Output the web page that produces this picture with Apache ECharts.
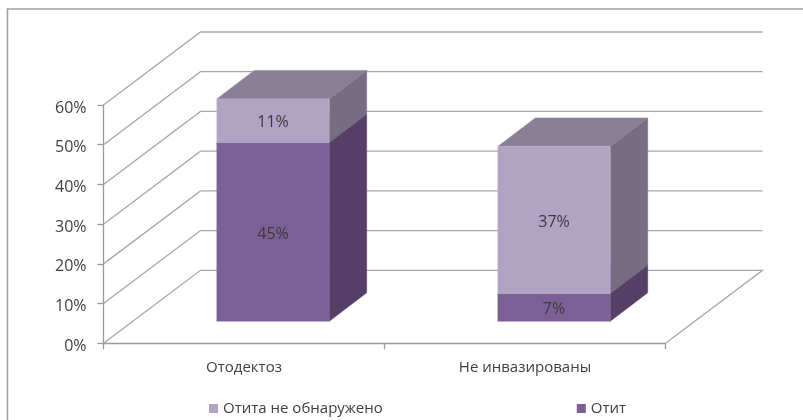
<!DOCTYPE html>
<html>
<head>
<meta charset="utf-8">
<style>
html, body { margin: 0; padding: 0; background: #fff; }
#chart { width: 803px; height: 420px; }
</style>
<script src="https://cdn.jsdelivr.net/npm/echarts@6/dist/echarts.min.js"></script>
</head>
<body>
<div id="chart"></div>
<script>
var categories = ['Отодектоз', 'Не инвазированы'];
var otit = [45, 7];
var noOtit = [11, 37];
var yTicks = [0, 10, 20, 30, 40, 50, 60];
var names = ['Отита не обнаружено', 'Отит'];

var FONT = '"Open Sans"';
var TEXT = '#404040';
var GRID_COLOR = '#a8a8a8';

// oblique projection of the 3d box, pixels
var WALL_DX = 97, WALL_DY = -73;
var BAR_DX = 29, BAR_DY = -22;
var DEPTH_DX = 37.5, DEPTH_DY = -28.5;
var BAR_WIDTH = 0.4;

function poly(points, fill, stroke) {
    return {
        type: 'polygon',
        shape: {points: points},
        style: {fill: fill, stroke: stroke || fill, lineWidth: 0.5}
    };
}

// one stacked piece: front, side, top and its label
function makeSegment(values, below, colors) {
    return function (params, api) {
        var i = params.dataIndex;
        var base = below ? below[i] : 0;
        var p0 = api.coord([i, base]);
        var p1 = api.coord([i, base + values[i]]);
        var w = api.size([1, 0])[0] * BAR_WIDTH;
        var l = p0[0] + BAR_DX - w / 2;
        var r = l + w;
        var y0 = p0[1] + BAR_DY;
        var y1 = p1[1] + BAR_DY;
        return {
            type: 'group',
            children: [
                poly([[r, y0], [r + DEPTH_DX, y0 + DEPTH_DY], [r + DEPTH_DX, y1 + DEPTH_DY], [r, y1]], colors.side),
                poly([[l, y1], [r, y1], [r + DEPTH_DX, y1 + DEPTH_DY], [l + DEPTH_DX, y1 + DEPTH_DY]], colors.top),
                poly([[l, y0], [r, y0], [r, y1], [l, y1]], colors.front, colors.edge),
                {
                    type: 'text',
                    style: {
                        x: (l + r) / 2,
                        y: (y0 + y1) / 2 + 2,
                        text: values[i] + '%',
                        align: 'center',
                        verticalAlign: 'middle',
                        fill: '#3a3a3a',
                        font: '16px ' + FONT
                    }
                }
            ]
        };
    };
}

// side wall and back wall lines for every tick
function renderWall(params, api) {
    var v = yTicks[params.dataIndex];
    var y = api.coord([0, v])[1];
    var cs = params.coordSys;
    var pts = [
        [cs.x, y],
        [cs.x + WALL_DX, y + WALL_DY],
        [cs.x + cs.width + WALL_DX, y + WALL_DY]
    ];
    if (v === 0) {
        pts.push([cs.x + cs.width, y]);
    }
    return {
        type: 'polyline',
        shape: {points: pts},
        style: {fill: null, stroke: GRID_COLOR, lineWidth: 1.3}
    };
}

var chart = echarts.init(document.getElementById('chart'), null, {renderer: 'canvas'});

chart.setOption({
    animation: false,
    backgroundColor: '#fff',
    graphic: [{
        type: 'rect',
        shape: {x: 7.5, y: 9, width: 900, height: 500},
        style: {fill: null, stroke: '#a0a0a0', lineWidth: 1.5},
        silent: true
    }],
    grid: {left: 103.5, top: 105, width: 562, height: 238.3},
    legend: {
        left: 204,
        top: 396,
        icon: 'rect',
        itemWidth: 9,
        itemHeight: 9,
        itemGap: 194,
        data: names,
        textStyle: {color: TEXT, fontFamily: FONT, fontSize: 15}
    },
    xAxis: {
        type: 'category',
        data: categories,
        axisLine: {lineStyle: {color: '#999', width: 1.3}},
        axisTick: {show: true, length: 6, lineStyle: {color: '#999', width: 1.3}},
        axisLabel: {color: TEXT, fontFamily: FONT, fontSize: 15, margin: 17}
    },
    yAxis: {
        type: 'value',
        min: 0,
        max: 60,
        interval: 10,
        splitLine: {show: false},
        axisLine: {show: true, lineStyle: {color: '#999', width: 1.3}},
        axisTick: {show: true, length: 6, lineStyle: {color: '#999', width: 1.3}},
        axisLabel: {
            margin: 17,
            formatter: '{t|{value}%}',
            rich: {t: {color: TEXT, fontFamily: FONT, fontSize: 16, padding: [6, 0, 0, 0]}}
        }
    },
    series: [
        {
            type: 'custom',
            silent: true,
            z: 1,
            renderItem: renderWall,
            data: yTicks
        },
        {
            name: names[1],
            type: 'custom',
            z: 2,
            itemStyle: {color: '#7b6096'},
            renderItem: makeSegment(otit, null, {front: '#7b6096', edge: '#8a70a3', side: '#553f67', top: '#6b5580'}),
            data: otit
        },
        {
            name: names[0],
            type: 'custom',
            z: 3,
            itemStyle: {color: '#b1a3c3'},
            renderItem: makeSegment(noOtit, otit, {front: '#b1a3c3', edge: '#c9bfd7', side: '#766d82', top: '#8a7f97'}),
            data: noOtit
        }
    ]
});
</script>
</body>
</html>
